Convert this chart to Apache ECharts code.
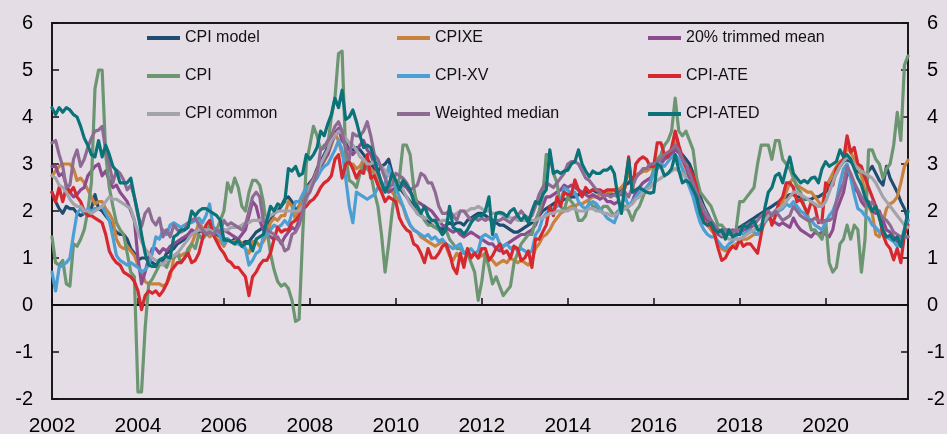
<!DOCTYPE html>
<html><head><meta charset="utf-8">
<script src="https://cdn.jsdelivr.net/npm/echarts@6/dist/echarts.min.js"></script>
<style>html,body{margin:0;padding:0;background:#e5dde5;}#c{width:947px;height:434px;}</style>
</head><body><div id="c"></div>
<script>
// ---- data (monthly, Jan 2002 - Dec 2021, 12-month change in %) ----
const startYear = 2002;
const nYears = 20;
const tickLabels = ['2002','2004','2006','2008','2010','2012','2014','2016','2018','2020'];

const cpiModel = [
2.4,2.2,2.05,1.95,2.1,2.05,2.05,1.95,1.9,1.95,2.0,2.05,
2.35,2.05,2.0,1.9,1.8,1.65,1.55,1.5,1.5,1.4,1.2,1.1,
0.95,1.0,1.0,0.95,0.9,0.85,0.9,0.95,1.1,1.15,1.2,1.3,
1.35,1.4,1.5,1.5,1.55,1.55,1.6,1.6,1.6,1.55,1.5,1.45,
1.4,1.4,1.35,1.4,1.35,1.3,1.35,1.35,1.45,1.55,1.6,1.65,
1.7,1.8,1.95,2.0,2.1,2.25,2.3,2.2,2.0,2.1,2.3,2.5,
2.6,2.7,2.9,3.05,3.2,3.35,3.5,3.65,3.75,3.6,3.45,3.3,
3.3,3.35,3.3,3.2,3.1,3.0,2.9,2.85,2.95,3.0,3.1,2.8,
2.6,2.5,2.4,2.3,2.2,2.1,1.95,1.9,1.85,1.8,1.7,1.65,
1.65,1.6,1.7,1.75,1.7,1.75,1.75,1.7,1.8,1.85,1.9,1.95,
1.95,1.9,1.85,1.8,1.75,1.7,1.7,1.65,1.6,1.55,1.55,1.6,
1.65,1.7,1.75,1.8,1.9,2.0,2.05,2.1,2.15,2.2,2.2,2.25,
2.25,2.3,2.3,2.35,2.35,2.4,2.4,2.45,2.4,2.4,2.4,2.4,
2.35,2.35,2.4,2.5,2.55,2.6,2.7,2.75,2.8,2.85,2.9,2.95,
3.0,3.05,3.1,3.15,3.2,3.25,3.3,3.25,3.2,3.1,3.0,2.8,
2.5,2.3,2.1,1.95,1.8,1.7,1.6,1.55,1.5,1.5,1.55,1.6,
1.65,1.7,1.75,1.8,1.85,1.9,1.95,2.0,2.05,2.1,2.15,2.2,
2.25,2.3,2.35,2.35,2.3,2.3,2.25,2.25,2.25,2.3,2.3,2.35,
2.4,2.5,2.65,2.8,2.95,3.05,3.1,3.05,2.95,2.85,2.8,2.75,
2.85,2.95,2.8,2.65,2.55,2.95,2.7,2.55,2.4,2.2,2.05,1.8];

const cpixe = [
2.75,2.85,2.95,3.0,3.0,3.0,2.9,2.65,2.7,2.6,2.45,2.3,
2.15,2.2,2.2,2.05,1.95,1.8,1.4,1.25,1.2,1.25,1.15,1.05,
0.85,0.7,0.5,0.45,0.45,0.45,0.45,0.4,0.45,0.6,1.0,1.1,
1.05,1.1,1.1,1.3,1.5,1.75,1.65,1.55,1.45,1.5,1.4,1.35,
1.25,1.4,1.35,1.35,1.4,1.3,1.2,1.1,1.35,1.35,1.25,1.35,
1.5,1.75,1.85,1.8,1.9,1.9,2.2,2.1,1.8,2.1,2.35,2.5,
2.55,2.7,2.85,3.0,3.05,3.2,3.4,3.65,3.5,3.2,3.1,3.0,
3.0,2.9,2.95,3.1,3.0,2.9,2.8,2.6,2.55,2.5,2.5,2.4,
2.3,2.2,2.1,1.85,1.7,1.6,1.55,1.45,1.4,1.35,1.3,1.25,
1.3,1.35,1.25,1.05,0.95,1.1,1.0,0.95,1.1,1.05,1.1,1.0,
1.05,1.1,1.0,0.95,0.85,0.9,0.95,0.9,1.0,0.95,0.9,0.95,
0.9,0.85,0.95,1.2,1.3,1.45,1.5,1.6,1.75,1.85,1.95,2.0,
2.05,2.1,2.1,2.15,2.15,2.2,2.25,2.3,2.3,2.35,2.35,2.4,
2.4,2.45,2.45,2.5,2.6,2.8,2.65,2.75,2.8,2.85,2.85,2.9,
3.0,3.1,3.15,3.2,3.25,3.3,3.5,3.3,3.1,2.9,2.7,2.5,
2.2,2.0,1.85,1.7,1.6,1.5,1.3,1.2,1.15,1.2,1.25,1.3,
1.35,1.4,1.4,1.45,1.5,1.5,1.6,1.75,1.85,1.9,2.0,2.1,
2.2,2.4,2.6,2.7,2.55,2.5,2.45,2.4,2.4,2.3,2.2,2.1,
2.5,2.65,2.8,2.95,3.05,3.1,3.35,3.25,3.1,2.95,2.75,2.4,
2.1,1.95,1.5,1.45,1.75,2.05,2.15,2.2,2.3,2.6,2.95,3.08];

const trimmedMean = [
2.95,2.95,2.75,2.8,2.55,2.4,2.3,2.35,2.45,2.5,2.75,2.85,
2.95,3.0,2.75,2.85,2.65,2.5,2.55,2.4,2.3,2.2,2.0,1.8,
1.0,0.45,0.7,1.0,1.2,1.2,1.1,1.2,1.15,1.25,1.3,1.35,
1.4,1.45,1.5,1.6,1.55,1.6,1.55,1.5,1.6,1.65,1.6,1.5,
1.6,1.55,1.5,1.45,1.4,1.5,1.6,1.9,2.2,2.1,1.8,1.6,
1.5,1.45,1.4,1.45,1.3,1.45,1.55,1.65,1.6,1.8,2.1,2.3,
2.5,2.7,2.8,2.9,3.1,3.2,3.45,3.6,3.75,3.5,3.4,3.3,
3.2,3.3,3.4,3.5,3.3,3.2,3.0,2.8,2.6,2.5,2.4,2.45,
2.5,2.6,2.55,2.5,2.4,2.3,2.2,2.15,2.1,2.05,2.0,1.9,
1.8,1.7,1.65,1.6,1.55,1.6,1.5,1.45,1.5,1.55,1.5,1.45,
1.4,1.35,1.3,1.3,1.2,1.15,1.25,1.3,1.35,1.4,1.45,1.5,
1.5,1.55,1.6,1.7,1.9,2.1,2.3,2.3,2.35,2.4,2.45,2.55,
2.5,2.55,2.5,2.45,2.4,2.35,2.3,2.35,2.3,2.25,2.3,2.2,
2.2,2.15,2.2,2.1,2.05,2.1,2.2,2.4,2.5,2.6,2.65,2.7,
2.8,2.9,3.0,3.1,3.15,3.2,3.3,3.25,3.1,2.95,2.7,2.5,
2.2,2.0,1.9,1.8,1.75,1.65,1.5,1.45,1.5,1.55,1.6,1.55,
1.5,1.6,1.6,1.65,1.7,1.65,1.7,1.8,1.85,1.8,1.75,1.7,
1.75,1.7,1.65,1.85,1.7,1.6,1.55,1.5,1.45,1.55,1.5,1.55,
1.5,1.45,1.6,2.0,2.2,2.4,2.8,2.75,2.5,2.4,2.2,2.1,
2.2,2.0,1.95,2.0,1.8,1.6,1.55,1.45,1.35,1.4,1.45,1.45];

const cpi = [
1.45,0.9,0.85,0.95,0.45,0.4,1.3,1.25,1.4,1.6,2.0,2.6,
4.6,5.0,5.0,3.2,2.5,2.1,1.75,1.6,1.5,1.1,0.7,0.6,
-1.85,-1.85,-0.5,0.45,0.55,0.7,0.85,0.9,0.8,1.0,1.0,1.1,
0.9,1.0,1.2,1.3,1.2,1.5,1.4,1.5,1.7,1.5,1.6,1.8,
2.0,2.6,2.4,2.7,2.5,2.1,2.0,2.4,2.65,2.65,2.55,2.2,
1.6,1.1,0.75,0.5,0.4,0.45,0.35,0.1,-0.35,-0.3,1.5,3.0,
3.4,3.8,3.6,3.3,3.4,3.4,4.0,4.4,5.35,5.4,3.2,2.65,
2.6,2.5,2.8,3.0,2.9,2.8,2.4,2.1,1.5,0.7,1.3,2.0,
2.5,2.7,3.4,3.4,3.2,2.5,2.1,1.95,1.8,1.7,1.7,1.65,
1.6,1.5,1.6,1.4,1.3,1.2,1.2,1.1,1.1,0.9,0.7,0.1,
0.5,1.1,0.8,0.45,0.6,0.4,0.2,0.3,0.4,0.9,1.1,1.3,
1.4,1.5,1.5,1.8,2.0,2.3,3.2,3.2,2.8,2.6,2.1,2.0,
2.3,2.2,2.1,1.8,1.8,1.9,2.2,2.1,2.1,2.0,2.1,2.1,
2.0,1.9,2.0,2.0,2.1,2.0,1.8,2.0,2.1,2.3,2.5,2.6,
2.9,3.1,3.2,3.4,3.5,3.7,4.4,3.7,3.6,3.7,3.5,3.3,
2.7,2.4,2.3,2.2,2.1,1.9,1.7,1.7,1.6,1.5,1.5,1.6,
2.2,2.2,2.3,2.4,2.5,3.0,3.4,3.4,3.4,3.1,3.5,3.5,
3.1,3.0,2.9,2.7,2.5,2.4,2.1,1.9,1.6,1.6,1.5,1.4,
1.8,0.9,0.7,0.8,1.3,1.4,1.7,1.4,1.7,1.6,0.7,1.4,
3.3,3.3,3.1,3.0,2.7,2.9,3.0,3.4,4.1,3.5,5.1,5.3];

const cpiXv = [
0.7,0.3,0.8,0.85,0.9,1.0,1.5,1.95,2.05,1.95,2.05,2.0,
2.05,2.05,2.1,1.95,1.8,1.45,1.05,0.95,0.9,0.85,0.9,0.85,
0.8,0.7,0.75,0.85,1.1,1.45,1.4,1.6,1.5,1.7,1.75,1.7,
1.65,1.7,1.75,1.75,1.8,1.85,1.75,1.9,2.15,1.65,1.55,1.45,
1.3,1.4,1.35,1.3,1.3,1.25,1.2,0.85,0.95,1.1,1.15,1.45,
1.5,1.6,1.7,1.65,1.7,1.8,1.7,1.95,2.2,2.2,2.35,2.5,
2.5,2.6,2.7,2.85,2.95,3.0,3.15,3.3,3.5,3.3,2.7,2.1,
1.75,2.4,2.35,2.3,2.25,2.3,2.35,2.5,2.45,2.6,2.95,2.7,
2.5,2.3,2.1,1.9,1.7,1.6,1.55,1.5,1.45,1.5,1.4,1.45,
1.35,1.4,1.3,1.25,1.2,1.25,1.3,1.1,1.15,1.2,1.1,1.15,
1.45,1.5,1.45,1.4,1.5,1.3,1.25,1.3,1.2,1.25,1.15,1.2,
1.15,1.1,1.15,1.5,1.6,1.85,1.95,2.0,2.05,2.1,2.15,2.5,
2.45,2.35,2.4,2.2,2.1,2.05,2.15,2.2,2.15,2.05,1.95,1.85,
1.8,1.75,1.95,2.15,2.3,2.1,2.2,2.3,2.4,2.45,2.5,2.6,
2.8,2.9,3.0,2.95,3.05,3.15,3.2,3.1,2.9,2.7,2.5,2.3,
2.0,1.75,1.6,1.5,1.45,1.45,1.35,1.25,1.2,1.3,1.35,1.45,
1.55,1.5,1.55,1.6,1.55,1.5,1.65,1.75,1.9,1.95,2.0,2.0,
2.05,2.15,2.1,2.2,2.1,2.0,1.95,1.85,1.8,1.7,1.65,1.6,
1.75,1.9,2.0,2.2,2.6,2.9,3.0,2.7,2.35,2.05,2.0,1.9,
1.85,1.7,1.65,1.55,1.5,1.45,1.4,1.35,1.25,1.35,1.6,1.8];

const cpiAte = [
2.4,2.2,2.5,2.2,2.5,2.4,2.5,2.3,2.2,2.0,1.9,1.9,
1.85,1.8,1.75,1.5,1.15,1.0,0.9,0.85,0.7,0.65,0.6,0.5,
0.3,-0.1,0.2,0.3,0.25,0.3,0.2,0.3,0.45,0.7,0.8,0.9,
0.9,1.0,1.1,0.9,0.95,1.1,1.4,1.7,1.8,1.5,1.35,1.2,
1.1,0.95,0.9,0.8,0.8,0.7,0.6,0.2,0.6,0.7,0.85,0.95,
0.95,1.1,1.4,1.65,1.55,1.6,1.6,1.75,1.8,1.9,2.05,2.1,
2.2,2.25,2.35,2.5,2.6,2.65,2.75,3.1,3.2,2.7,3.0,3.05,
2.9,2.7,2.85,2.8,3.2,2.7,2.75,2.55,2.4,2.2,2.3,2.25,
2.2,1.85,1.7,1.6,1.55,1.3,1.25,1.1,0.9,1.2,1.0,1.0,
1.1,1.25,1.3,1.1,0.8,0.67,1.1,0.8,1.2,1.0,1.1,1.0,
1.2,1.2,0.95,1.05,1.2,1.3,1.1,1.15,1.0,1.25,1.2,0.95,
1.0,1.15,0.8,1.4,1.4,1.55,1.7,2.1,1.9,2.3,2.1,2.4,
2.35,2.35,2.66,2.45,2.3,2.5,2.4,2.45,2.45,2.45,2.4,2.45,
2.45,2.45,2.4,2.35,2.5,3.15,2.4,3.0,3.1,3.15,3.1,2.95,
2.95,3.45,3.45,3.2,3.15,3.35,3.7,3.4,3.15,2.95,2.9,2.75,
2.5,2.1,1.75,1.7,1.7,1.5,1.2,0.95,1.0,1.15,1.25,1.2,
1.4,1.25,1.3,1.3,1.2,1.1,1.5,1.9,2.0,1.7,1.9,2.2,
2.3,2.6,2.6,2.5,2.2,2.25,2.1,1.95,2.2,2.1,1.75,1.8,
2.6,2.5,2.55,2.9,3.0,3.1,3.6,3.25,3.35,3.0,2.95,2.7,
2.5,2.3,2.1,1.9,1.5,1.3,1.2,0.96,1.2,0.9,1.5,1.7];

const cpiCommon = [
2.75,2.7,2.55,2.5,2.4,2.25,2.15,2.1,2.1,2.0,2.0,1.95,
2.0,2.05,2.1,2.2,2.3,2.25,2.25,2.2,2.15,2.1,2.05,1.8,
1.55,1.35,1.2,1.1,1.0,0.95,0.9,0.85,0.95,1.0,1.05,1.1,
1.2,1.3,1.4,1.5,1.55,1.6,1.6,1.6,1.6,1.55,1.6,1.6,
1.6,1.6,1.65,1.65,1.65,1.7,1.75,1.75,1.8,1.8,1.8,1.85,
1.85,1.9,1.95,2.0,2.0,2.0,2.0,2.0,2.0,2.0,2.1,2.2,
2.5,2.65,2.8,3.0,3.15,3.3,3.5,3.6,3.7,3.65,3.55,3.45,
3.4,3.3,3.15,3.1,3.0,3.0,3.05,3.0,2.95,2.85,2.75,2.7,
2.6,2.55,2.45,2.3,2.15,2.05,1.95,1.9,1.85,1.85,1.8,1.75,
1.75,1.8,1.8,1.85,1.9,1.95,2.0,2.0,2.0,2.05,2.05,2.1,
2.05,2.0,2.0,1.95,1.95,1.95,1.9,1.9,1.85,1.85,1.8,1.8,
1.8,1.8,1.8,1.8,1.85,1.85,1.9,1.95,1.95,2.0,2.0,2.0,
2.0,2.05,2.05,2.0,2.0,2.0,2.05,2.05,2.0,2.0,1.95,1.95,
1.9,1.9,1.95,2.0,2.05,2.1,2.15,2.25,2.3,2.4,2.45,2.5,
2.6,2.65,2.7,2.75,2.8,2.85,2.9,2.85,2.8,2.7,2.6,2.5,
2.35,2.2,2.05,1.9,1.8,1.7,1.6,1.5,1.45,1.4,1.4,1.4,
1.4,1.45,1.5,1.55,1.6,1.65,1.7,1.8,1.9,1.95,2.0,2.05,
2.1,2.2,2.3,2.4,2.4,2.35,2.3,2.25,2.2,2.15,2.1,2.1,
2.2,2.4,2.6,2.8,2.95,3.05,3.15,3.1,3.0,2.9,2.85,2.8,
2.75,2.7,2.6,2.45,2.3,2.2,2.1,2.0,1.9,1.8,1.7,1.65];

const weightedMedian = [
3.45,3.5,3.2,2.95,2.5,2.55,3.1,3.3,2.95,3.1,3.35,3.55,
3.7,3.72,3.8,3.3,3.0,2.6,2.87,2.8,2.66,2.45,2.55,2.3,
1.9,1.67,1.95,2.05,1.8,1.7,1.85,1.45,1.6,1.45,1.7,1.6,
1.55,1.6,1.75,1.8,1.85,1.7,1.6,1.5,1.55,1.5,1.6,1.55,
1.8,1.7,1.75,1.7,1.65,1.6,1.7,2.0,2.3,2.4,2.3,1.8,
1.6,1.55,1.5,1.4,1.35,1.15,1.2,1.5,1.55,1.7,2.0,2.3,
2.4,2.6,2.8,3.3,3.35,3.5,3.6,3.8,3.9,3.7,3.3,3.1,
3.65,3.6,3.6,3.7,3.9,3.6,3.2,3.1,2.9,2.7,2.5,2.55,
2.8,2.75,2.7,2.6,2.45,2.5,2.55,2.8,2.75,2.6,2.6,2.4,
2.1,1.95,1.95,2.0,1.9,1.8,2.0,2.0,1.9,1.8,1.85,1.8,
1.85,1.8,1.85,1.75,1.8,1.8,1.85,1.8,1.75,1.85,1.9,2.0,
1.9,1.85,1.9,2.1,2.35,2.5,2.6,2.55,2.5,2.6,2.7,2.8,
3.0,3.05,3.05,3.0,2.85,2.7,2.65,2.55,2.45,2.4,2.3,2.35,
2.3,2.35,2.3,2.4,2.4,2.3,2.5,2.7,2.8,2.9,2.9,3.0,
3.0,3.05,3.1,3.2,3.25,3.3,3.4,3.3,3.1,3.0,2.8,2.6,
2.4,2.2,2.0,1.9,1.8,1.7,1.6,1.55,1.6,1.6,1.55,1.6,
1.6,1.65,1.7,1.75,1.7,1.8,1.9,1.95,2.0,1.9,2.0,1.9,
1.8,1.85,1.9,2.1,2.0,1.9,1.85,1.8,1.8,1.85,1.8,1.75,
1.8,1.8,1.85,2.2,2.4,2.6,2.95,2.8,2.6,2.45,2.3,2.2,
2.1,2.2,2.05,1.95,1.85,1.8,1.7,1.55,1.5,1.45,1.45,1.45];

const cpiAted = [
4.2,4.05,4.2,4.1,4.2,4.15,4.05,4.0,3.8,3.55,3.4,3.2,
3.15,3.5,3.15,3.4,3.2,2.95,2.85,2.6,2.6,2.6,2.7,2.3,
1.95,1.5,1.1,0.85,0.82,0.82,0.96,1.0,1.03,1.0,1.45,1.5,
1.6,1.6,1.65,2.0,1.9,2.0,2.05,2.05,2.0,1.95,1.9,1.8,
1.38,1.38,1.35,1.3,1.38,1.25,1.3,1.35,1.15,1.4,1.45,1.5,
1.8,2.1,2.0,2.15,2.1,2.2,2.9,2.85,2.95,2.75,2.8,3.2,
3.1,3.2,3.35,3.7,3.6,3.85,4.05,4.4,4.2,4.57,3.95,4.0,
4.15,3.9,3.6,3.35,3.4,3.35,3.1,2.85,2.6,2.4,2.55,2.8,
2.65,2.45,2.65,2.55,2.45,2.2,2.1,1.95,2.1,1.9,1.8,1.8,
1.65,1.5,1.6,2.1,1.65,1.6,1.6,1.5,1.6,1.75,1.85,1.9,
1.9,2.0,2.3,1.5,1.95,1.97,1.95,1.88,2.0,2.05,1.9,1.8,
1.9,1.75,2.0,2.2,2.15,2.35,2.45,3.3,2.8,2.85,2.8,2.85,
2.87,3.0,3.05,3.3,3.0,2.85,2.73,2.85,2.8,2.8,2.87,2.87,
2.94,2.8,2.3,1.95,2.6,3.1,2.4,2.45,2.5,2.45,2.4,2.38,
2.4,3.0,2.95,2.75,2.8,2.9,3.2,2.87,2.6,2.65,2.6,2.45,
2.3,1.95,1.75,1.7,1.75,1.6,1.55,1.6,1.4,1.6,1.45,1.5,
1.5,1.7,1.65,1.72,1.8,1.6,1.6,2.05,2.4,2.5,2.75,2.8,
2.6,2.9,3.15,2.8,2.7,2.6,2.65,2.6,2.7,2.72,2.6,2.9,
3.05,2.95,3.0,3.05,3.3,3.15,3.2,3.1,2.9,2.7,2.55,2.3,
2.15,2.0,2.1,1.85,1.6,1.45,1.48,1.38,1.45,1.24,1.6,2.0];

const seriesNames = ['CPI model','CPIXE','20% trimmed mean','CPI','CPI-XV','CPI-ATE','CPI common','Weighted median','CPI-ATED'];
const seriesData = [cpiModel, cpixe, trimmedMean, cpi, cpiXv, cpiAte, cpiCommon, weightedMedian, cpiAted];
const seriesColors = ['#1f4d6f','#c8823e','#8b4b8e','#6c9572','#4aa0d4','#d6282f','#a3a3ab','#8d6b93','#0b7378'];

// ---- chart ----
const categories = [];
for (let y = startYear; y < startYear + nYears; y++) {
  for (let m = 1; m <= 12; m++) categories.push(y + '-' + (m < 10 ? '0' + m : m));
}
const FONT = '"Liberation Sans", Arial, sans-serif';
const isTick = (i) => i % 24 === 0;

const legendCols = [
  ['CPI model','CPI','CPI common'],
  ['CPIXE','CPI-XV','Weighted median'],
  ['20% trimmed mean','CPI-ATE','CPI-ATED']
];
const legendLeft = [147, 397, 648];

const chart = echarts.init(document.getElementById('c'), null, {renderer: 'canvas'});
const yAxisBase = (pos) => ({
  type: 'value', min: -2, max: 6, interval: 1, position: pos,
  axisLine: {show: false},
  axisTick: {show: true, inside: true, length: 7, lineStyle: {color: '#111', width: 1.5}},
  axisLabel: {fontSize: 20, color: '#000', margin: 19, fontFamily: FONT},
  splitLine: {show: false}
});

chart.setOption({
  animation: false,
  backgroundColor: '#e5dde5',
  grid: {left: 52, right: 39, top: 23, bottom: 35, containLabel: false, outerBoundsMode: 'none',
         show: true, borderColor: '#1a1a1a', borderWidth: 2, backgroundColor: 'transparent'},
  xAxis: [
    {
      type: 'category', data: categories, boundaryGap: false, position: 'bottom',
      axisLine: {onZero: true, lineStyle: {color: '#111', width: 2}},
      axisTick: {inside: true, length: 7, interval: (i) => isTick(i), lineStyle: {color: '#111', width: 1.5}},
      axisLabel: {show: false}, splitLine: {show: false}
    },
    {
      type: 'category', data: categories, boundaryGap: false, position: 'bottom',
      axisLine: {show: false, onZero: false}, axisTick: {show: false},
      axisLabel: {
        interval: (i) => isTick(i),
        formatter: (v, i) => tickLabels[Math.round(i / 24)] || '',
        fontSize: 21, color: '#000', margin: 17, fontFamily: FONT
      },
      splitLine: {show: false}
    }
  ],
  yAxis: [yAxisBase('left'), yAxisBase('right')],
  legend: legendCols.map((col, c) => ({
    orient: 'vertical', left: legendLeft[c], top: 30, padding: 0,
    itemWidth: 33, itemHeight: 4, itemGap: 22,
    icon: 'rect',
    data: col.map((n) => ({name: n, icon: 'rect'})),
    textStyle: {fontSize: 16, color: '#111', fontFamily: FONT, lineHeight: 16}
  })),
  series: seriesNames.map((n, k) => ({
    name: n, type: 'line', xAxisIndex: 0, yAxisIndex: 0,
    data: seriesData[k], symbol: 'none', showSymbol: false, smooth: false,
    lineStyle: {width: 3.2, color: seriesColors[k], cap: 'round', join: 'round'},
    itemStyle: {color: seriesColors[k]},
    emphasis: {disabled: true}
  }))
});
</script></body></html>
